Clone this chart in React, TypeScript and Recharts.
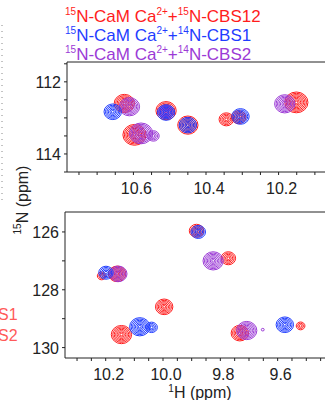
import React from 'react';
import { ScatterChart, Scatter, XAxis, YAxis, ReferenceLine } from 'recharts';

// peak lists: h = 1H ppm, n = 15N ppm, lv = number of contour levels (intensity)
const topRed = [
  { h: 10.625, n: 112.6, lv: 7 },
  { h: 10.597, n: 113.47, lv: 8 },
  { h: 10.51, n: 112.8, lv: 7 },
  { h: 10.45, n: 113.2, lv: 7 },
  { h: 10.344, n: 113.04, lv: 5 },
  { h: 10.31, n: 112.98, lv: 5 },
  { h: 10.151, n: 112.57, lv: 8 },
];
const topPurple = [
  { h: 10.611, n: 112.69, lv: 7 },
  { h: 10.579, n: 113.43, lv: 8 },
  { h: 10.545, n: 113.5, lv: 4 },
  { h: 10.51, n: 112.83, lv: 5 },
  { h: 10.183, n: 112.61, lv: 7 },
];
const topBlue = [
  { h: 10.657, n: 112.83, lv: 6 },
  { h: 10.51, n: 112.85, lv: 6 },
  { h: 10.45, n: 113.2, lv: 6 },
  { h: 10.305, n: 112.96, lv: 6 },
];

const botRed = [
  { h: 9.883, n: 125.96, lv: 5 },
  { h: 9.772, n: 126.91, lv: 5 },
  { h: 10.214, n: 127.52, lv: 3 },
  { h: 10.16, n: 127.45, lv: 6 },
  { h: 9.996, n: 128.59, lv: 6 },
  { h: 10.145, n: 129.55, lv: 7 },
  { h: 9.732, n: 129.5, lv: 6 },
  { h: 9.52, n: 129.25, lv: 3 },
];
const botPurple = [
  { h: 9.825, n: 127.0, lv: 7 },
  { h: 10.156, n: 127.45, lv: 6 },
  { h: 9.708, n: 129.41, lv: 7 },
  { h: 9.652, n: 129.38, lv: 1 },
];
const botBlue = [
  { h: 9.877, n: 126.0, lv: 5 },
  { h: 10.199, n: 127.41, lv: 5 },
  { h: 10.081, n: 129.28, lv: 7 },
  { h: 10.04, n: 129.3, lv: 4 },
  { h: 9.575, n: 129.21, lv: 6 },
];

const topXTicks = [10.75, 10.7, 10.65, 10.6, 10.55, 10.5, 10.45, 10.4, 10.35, 10.3, 10.25, 10.2, 10.15, 10.1, 10.05];
const topYTicks = [111.5, 112, 112.5, 113, 113.5, 114, 114.5];
const botXTicks = [10.3, 10.25, 10.2, 10.15, 10.1, 10.05, 10.0, 9.95, 9.9, 9.85, 9.8, 9.75, 9.7, 9.65, 9.6, 9.55, 9.5, 9.45];
const botYTicks = [126, 127, 128, 129, 130];

const RED = '#ff1c1c';
const BLUE = '#1f3cff';
const PURPLE = '#9b3ad6';
const FONT = '"Liberation Sans", Arial, sans-serif';

const contour = (color: string) => (props: any) => {
  const { cx, cy, payload } = props;
  const rings = [];
  for (let i = payload.lv; i >= 1; i--) {
    rings.push(
      <ellipse key={i} cx={cx} cy={cy} rx={i * 1.45} ry={i * 1.3} fill="none" stroke={color} strokeWidth={1} />
    );
  }
  return <g>{rings}</g>;
};

const isMajorX = (v: number) => Math.abs(v * 5 - Math.round(v * 5)) < 1e-6;
const isMajorY = (v: number) => Math.round(v) === v && v % 2 === 0;

const XTick = (props: any) => {
  const { x, y, payload } = props;
  if (!isMajorX(payload.value)) return <g />;
  return (
    <text x={x + 3} y={y} dy={17} textAnchor="middle" fontSize={16} fill="#222" fontFamily={FONT}>
      {payload.value.toFixed(1)}
    </text>
  );
};

const YTick = (props: any) => {
  const { x, y, payload } = props;
  if (!isMajorY(payload.value)) return <g />;
  return (
    <text x={x - 1} y={y} dy={6} textAnchor="end" fontSize={16} fill="#222" fontFamily={FONT}>
      {payload.value}
    </text>
  );
};

const Sup = ({ children }: { children: React.ReactNode }) => (
  <span style={{ fontSize: 10, position: 'relative', top: -7 }}>{children}</span>
);

export default function App() {
  return (
    <div style={{ position: 'fixed', left: 0, top: 0, width: 325, height: 400, overflow: 'hidden', background: '#fff', fontFamily: FONT }}>
      <div style={{ position: 'absolute', left: 65, top: 8, fontSize: 17, lineHeight: '17px', whiteSpace: 'nowrap' }}>
        <div style={{ color: RED }}><Sup>15</Sup>N-CaM Ca<Sup>2+</Sup>+<Sup>15</Sup>N-CBS12</div>
        <div style={{ color: BLUE }}><Sup>15</Sup>N-CaM Ca<Sup>2+</Sup>+<Sup>14</Sup>N-CBS1</div>
        <div style={{ color: PURPLE }}><Sup>15</Sup>N-CaM Ca<Sup>2+</Sup>+<Sup>14</Sup>N-CBS2</div>
      </div>

      <div style={{ position: 'absolute', left: 0, top: 0 }}>
        <ScatterChart width={360} height={200} margin={{ top: 62, right: 15, bottom: 8, left: 0 }}>
          <XAxis
            type="number"
            dataKey="h"
            domain={[10.017, 10.783]}
            reversed
            ticks={topXTicks}
            interval={0}
            height={20}
            tickSize={3}
            tick={<XTick />}
            stroke="#222"
            allowDataOverflow
          />
          <YAxis
            type="number"
            dataKey="n"
            domain={[111.45, 114.5]}
            reversed
            ticks={topYTicks}
            interval={0}
            width={67}
            tickSize={3}
            tick={<YTick />}
            stroke="#222"
            allowDataOverflow
          />
          <ReferenceLine y={111.45} stroke="#222" />
          <Scatter data={topRed} shape={contour(RED)} isAnimationActive={false} />
          <Scatter data={topPurple} shape={contour(PURPLE)} isAnimationActive={false} />
          <Scatter data={topBlue} shape={contour(BLUE)} isAnimationActive={false} />
        </ScatterChart>
      </div>

      <div style={{ position: 'absolute', left: 0, top: 190 }}>
        <ScatterChart width={360} height={210} margin={{ top: 22, right: 15, bottom: 20, left: 0 }}>
          <XAxis
            type="number"
            dataKey="h"
            domain={[9.365, 10.342]}
            reversed
            ticks={botXTicks}
            interval={0}
            height={22}
            tickSize={3}
            tick={<XTick />}
            stroke="#222"
            allowDataOverflow
          />
          <YAxis
            type="number"
            dataKey="n"
            domain={[125.31, 130.36]}
            reversed
            ticks={botYTicks}
            interval={0}
            width={65}
            tickSize={3}
            tick={<YTick />}
            stroke="#222"
            allowDataOverflow
          />
          <ReferenceLine y={125.31} stroke="#222" />
          <Scatter data={botRed} shape={contour(RED)} isAnimationActive={false} />
          <Scatter data={botPurple} shape={contour(PURPLE)} isAnimationActive={false} />
          <Scatter data={botBlue} shape={contour(BLUE)} isAnimationActive={false} />
        </ScatterChart>
      </div>

      <svg width={325} height={400} style={{ position: 'absolute', left: 0, top: 0, pointerEvents: 'none' }}>
        <line x1={2} y1={25} x2={2} y2={200} stroke="#888" strokeDasharray="1 5" />
        <text transform="translate(28,200) rotate(-90)" textAnchor="middle" fontSize={16} fill="#222" fontFamily={FONT}>
          <tspan fontSize={10} dy={-7}>15</tspan>
          <tspan dy={7}>N  (ppm)</tspan>
        </text>
        <text x={-2} y={320} fontSize={16} fill="#ff5a5a" fontFamily={FONT}>S1</text>
        <text x={-2} y={341} fontSize={16} fill="#ff5a5a" fontFamily={FONT}>S2</text>
        <text x={200} y={398} textAnchor="middle" fontSize={16} fill="#222" fontFamily={FONT}>
          <tspan fontSize={10} dy={-6}>1</tspan>
          <tspan dy={6}>H  (ppm)</tspan>
        </text>
      </svg>
    </div>
  );
}
